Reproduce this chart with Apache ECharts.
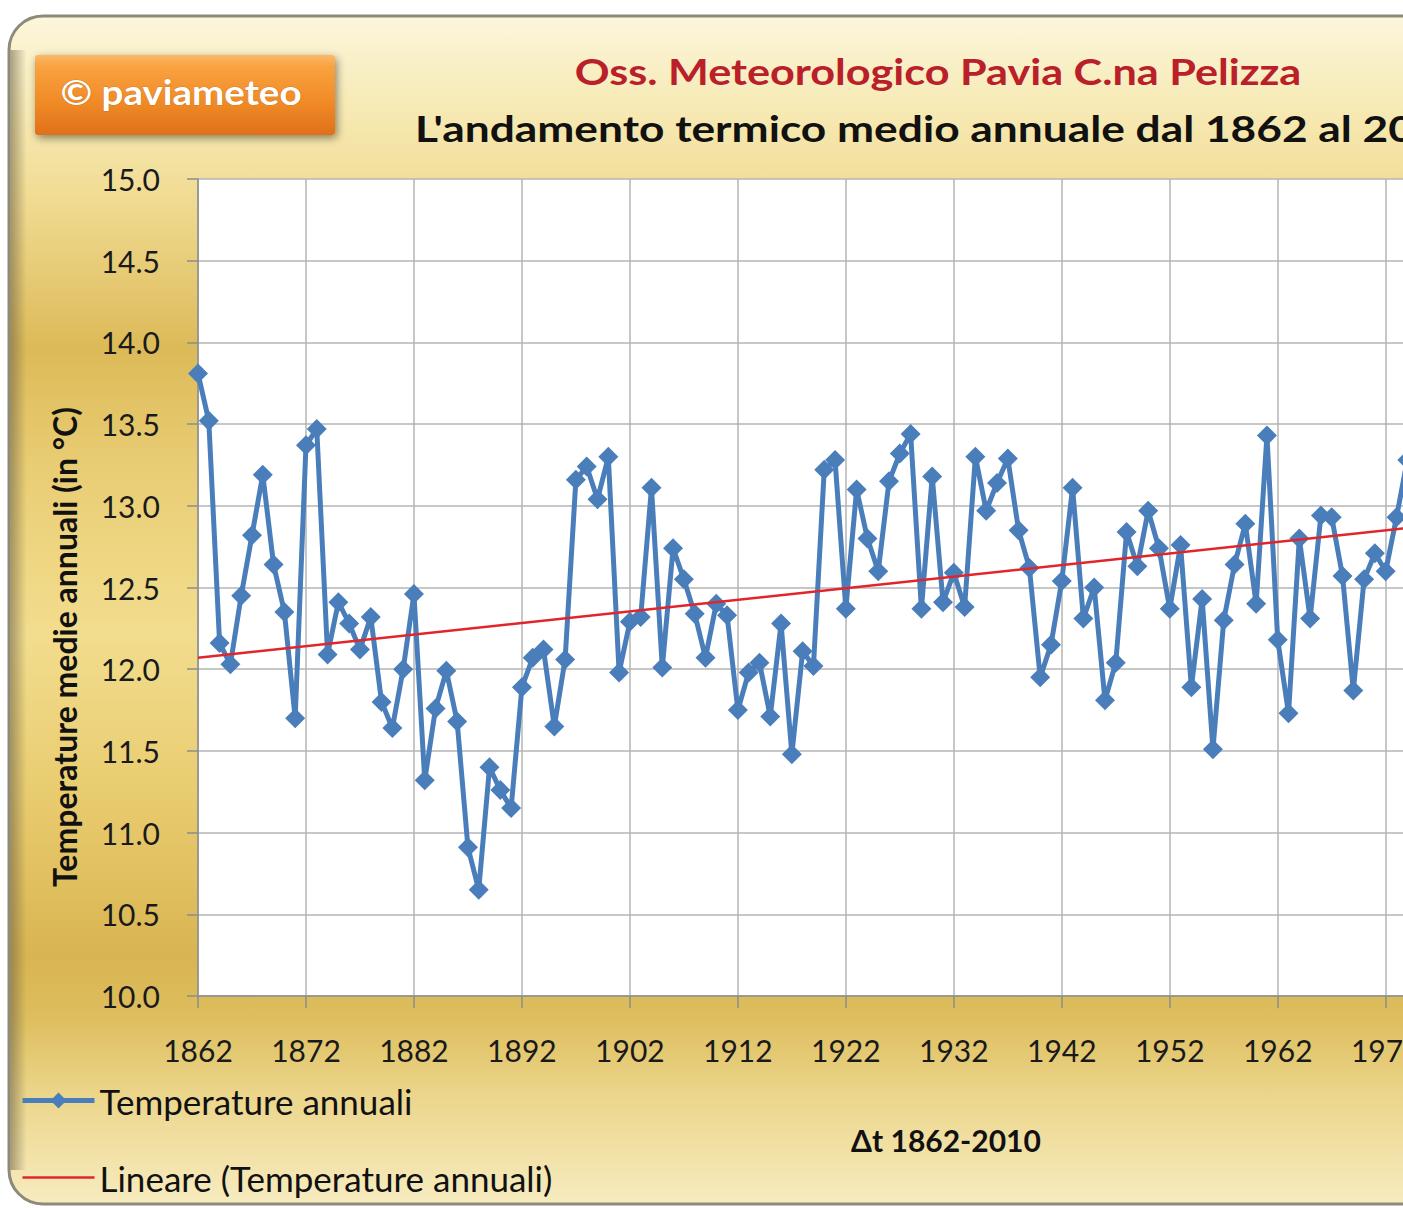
<!DOCTYPE html>
<html>
<head>
<meta charset="utf-8">
<script src="https://cdn.jsdelivr.net/npm/echarts@6/dist/echarts.min.js"></script>
<style>
html,body{margin:0;padding:0;overflow:hidden;background:#ffffff;width:1403px;height:1208px}
#chart{position:absolute;left:0;top:0;width:1866px;height:1208px}
</style>
</head>
<body>
<div id="chart"></div>
<script>
// ---- data ----
const startYear = 1862;
const endYear = 2010;
// annual mean temperature (°C), 1862 .. 1974 (years visible in the reference)
const temperature = [
  13.81, 13.52, 12.16, 12.03, 12.45, 12.82, 13.19, 12.64, 12.35, 11.70, // 1862-1871
  13.37, 13.47, 12.09, 12.41, 12.28, 12.12, 12.32, 11.80, 11.64, 12.00, // 1872-1881
  12.46, 11.32, 11.76, 11.99, 11.68, 10.91, 10.65, 11.40, 11.26, 11.15, // 1882-1891
  11.89, 12.07, 12.12, 11.65, 12.06, 13.16, 13.24, 13.04, 13.30, 11.98, // 1892-1901
  12.29, 12.32, 13.11, 12.01, 12.74, 12.55, 12.34, 12.07, 12.40, 12.33, // 1902-1911
  11.75, 11.98, 12.04, 11.71, 12.28, 11.48, 12.11, 12.02, 13.22, 13.28, // 1912-1921
  12.37, 13.10, 12.80, 12.60, 13.15, 13.32, 13.44, 12.37, 13.18, 12.41, // 1922-1931
  12.59, 12.38, 13.30, 12.97, 13.14, 13.29, 12.85, 12.62, 11.95, 12.15, // 1932-1941
  12.54, 13.11, 12.31, 12.50, 11.81, 12.04, 12.84, 12.63, 12.97, 12.74, // 1942-1951
  12.37, 12.76, 11.89, 12.43, 11.51, 12.30, 12.64, 12.89, 12.40, 13.43, // 1952-1961
  12.18, 11.73, 12.80, 12.31, 12.94, 12.93, 12.57, 11.87, 12.55, 12.71, // 1962-1971
  12.60, 12.93, 13.28                                                   // 1972-1974
];
// linear trend endpoints (1862, 2010)
const trendValues = [12.07, 13.12];
const yMin = 10, yMax = 15, yStep = 0.5;

const titleMain = 'Oss. Meteorologico Pavia C.na Pelizza';
const titleSub = "L'andamento termico medio annuale dal 1862 al 2010";
const yAxisTitle = 'Temperature medie annuali (in °C)';
const xAxisTitle = 'Δt 1862-2010';
const seriesName = 'Temperature annuali';
const trendName = 'Lineare (Temperature annuali)';
const badgeText = '© paviameteo';

const years = [];
for (let y = startYear; y <= endYear; y++) years.push(String(y));

const FONT = 'Lato, "Open Sans", sans-serif';
const BLUE = '#4a7ebb';
const RED = '#e0262b';
const chart = echarts.init(document.getElementById('chart'), null, {renderer: 'svg'});

chart.setOption({
  animation: false,
  backgroundColor: 'transparent',
  graphic: {
    elements: [
      {
        type: 'rect', z: -10, silent: true,
        shape: {x: 9, y: 16, width: 1848, height: 1188, r: 34},
        style: {
          fill: {type: 'linear', x: 0, y: 0, x2: 0, y2: 1, colorStops: [
            {offset: 0.00, color: '#fcf6dc'},
            {offset: 0.07, color: '#f7ebb8'},
            {offset: 0.15, color: '#f1dc94'},
            {offset: 0.28, color: '#dcba58'},
            {offset: 0.38, color: '#e9cd74'},
            {offset: 0.52, color: '#f2dd8e'},
            {offset: 0.66, color: '#e8cb6e'},
            {offset: 0.79, color: '#d9b552'},
            {offset: 0.84, color: '#ddbd5c'},
            {offset: 0.91, color: '#ecd68c'},
            {offset: 1.00, color: '#f7ecc0'}
          ]},
          stroke: '#8e8a7a', lineWidth: 3
        }
      },
      {
        type: 'rect', z: -9, silent: true,
        shape: {x: 10.5, y: 50, width: 16, height: 1120},
        style: {
          fill: {type: 'linear', x: 0, y: 0, x2: 1, y2: 0, colorStops: [
            {offset: 0, color: 'rgba(105,95,70,0.55)'},
            {offset: 1, color: 'rgba(105,95,70,0)'}
          ]}
        }
      },
      {
        type: 'rect', z: 10, silent: true,
        shape: {x: 35, y: 55, width: 300, height: 80, r: 3},
        style: {
          fill: {type: 'linear', x: 0, y: 0, x2: 0, y2: 1, colorStops: [
            {offset: 0, color: '#fcb866'},
            {offset: 0.15, color: '#f9a23f'},
            {offset: 0.6, color: '#f08a26'},
            {offset: 1, color: '#e0701a'}
          ]},
          shadowBlur: 8, shadowColor: 'rgba(0,0,0,0.45)', shadowOffsetX: 2, shadowOffsetY: 3
        }
      },
      {
        type: 'text', z: 11, silent: true, x: 181, y: 92, scaleX: 1.1,
        style: {text: badgeText, fontFamily: FONT, fontWeight: 'bold', fontSize: 35,
          fill: '#ffffff', stroke: 'rgba(150,80,20,0.35)', lineWidth: 1,
          align: 'center', verticalAlign: 'middle'}
      },
      {
        type: 'text', z: 11, silent: true, x: 938, y: 71, scaleX: 1.2,
        style: {text: titleMain, fontFamily: FONT, fontWeight: 'bold', fontSize: 36,
          fill: '#b9202a', align: 'center', verticalAlign: 'middle'}
      },
      {
        type: 'text', z: 11, silent: true, x: 415, y: 128, scaleX: 1.23,
        style: {text: titleSub, fontFamily: FONT, fontWeight: 'bold', fontSize: 36,
          fill: '#111111', align: 'left', verticalAlign: 'middle'}
      },
      {
        type: 'text', z: 11, silent: true, x: 64, y: 647, rotation: Math.PI / 2,
        style: {text: yAxisTitle, fontFamily: FONT, fontWeight: 'bold', fontSize: 32,
          fill: '#111111', align: 'center', verticalAlign: 'middle'}
      },
      {
        type: 'text', z: 11, silent: true, x: 946, y: 1140,
        style: {text: xAxisTitle, fontFamily: FONT, fontWeight: 'bold', fontSize: 30,
          fill: '#111111', align: 'center', verticalAlign: 'middle'}
      }
    ]
  },
  grid: {
    left: 198, top: 179, width: 1598, height: 817,
    containLabel: false, outerBoundsMode: 'none',
    show: true, backgroundColor: '#ffffff', borderWidth: 0
  },
  legend: {
    orient: 'vertical', left: 20, top: 1083, padding: 0,
    itemWidth: 72, itemHeight: 20, itemGap: 42,
    textStyle: {fontFamily: FONT, fontSize: 35, color: '#111111', lineHeight: 34},
    data: [
      {name: seriesName, lineStyle: {width: 5}},
      {name: trendName, lineStyle: {width: 2.5}, itemStyle: {opacity: 0}}
    ]
  },
  xAxis: {
    type: 'category', data: years, boundaryGap: false,
    axisLine: {show: true, lineStyle: {color: '#8c8c8c', width: 1.5}},
    axisTick: {show: true, interval: 9, length: 12, lineStyle: {color: '#8c8c8c', width: 1.5}},
    axisLabel: {interval: 9, margin: 39, fontFamily: FONT, fontSize: 30, color: '#1a1a1a'},
    splitLine: {show: true, interval: 9, lineStyle: {color: '#b4b4b4', width: 1.5}}
  },
  yAxis: {
    type: 'value', min: yMin, max: yMax, interval: yStep,
    axisLine: {show: true, lineStyle: {color: '#8c8c8c', width: 1.5}},
    axisTick: {show: true, length: 11, lineStyle: {color: '#8c8c8c', width: 1.5}},
    axisLabel: {margin: 38, fontFamily: FONT, fontSize: 30, color: '#1a1a1a',
      formatter: v => v.toFixed(1)},
    splitLine: {show: true, lineStyle: {color: '#b4b4b4', width: 1.5}}
  },
  series: [
    {
      name: seriesName, type: 'line', data: temperature,
      symbol: 'diamond', symbolSize: 20, showAllSymbol: true,
      lineStyle: {color: BLUE, width: 5},
      itemStyle: {color: BLUE},
      z: 3
    },
    {
      name: trendName, type: 'line',
      data: [[String(startYear), trendValues[0]], [String(endYear), trendValues[1]]],
      symbol: 'none', showSymbol: false,
      lineStyle: {color: RED, width: 2.5},
      itemStyle: {color: RED},
      z: 4
    }
  ]
});
</script>
</body>
</html>
